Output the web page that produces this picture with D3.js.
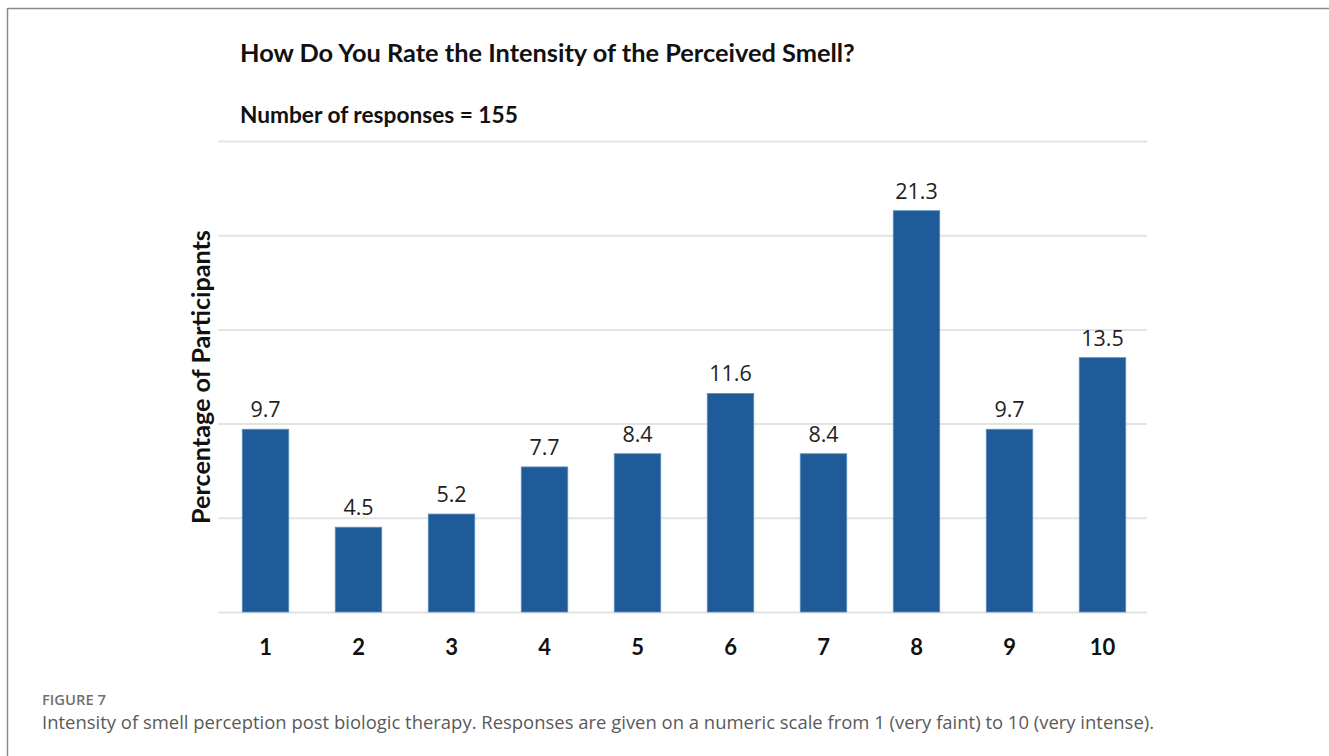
<!DOCTYPE html>
<html><head><meta charset="utf-8">
<script src="https://cdn.jsdelivr.net/npm/d3@7"></script>
<style>
body{margin:0;background:#fff;}
svg{display:block;}
</style></head>
<body>
<svg id="chart" width="1329" height="756"></svg>
<script>
const categories = ["1","2","3","4","5","6","7","8","9","10"];
const values = [9.7, 4.5, 5.2, 7.7, 8.4, 11.6, 8.4, 21.3, 9.7, 13.5];
const yTicks = [0, 5, 10, 15, 20, 25];
const titleText = "How Do You Rate the Intensity of the Perceived Smell?";
const subtitleText = "Number of responses = 155";
const yLabel = "Percentage of Participants";
const figLabel = "FIGURE 7";
const captionText = "Intensity of smell perception post biologic therapy. Responses are given on a numeric scale from 1 (very faint) to 10 (very intense).";

const svg = d3.select("#chart");
const pLeft = 218, pRight = 1147, pTop = 141, pBottom = 612;

// frame
svg.append("line").attr("x1",8).attr("x2",1329).attr("y1",8.5).attr("y2",8.5).attr("stroke","#8a8a8a").attr("stroke-width",1.5);
svg.append("line").attr("x1",7.5).attr("x2",7.5).attr("y1",8).attr("y2",756).attr("stroke","#8a8a8a").attr("stroke-width",1.5);

const x = d3.scaleBand().domain(categories).range([pLeft + 1, pRight + 2]).paddingInner(0.5).paddingOuter(0.25);
const y = d3.scaleLinear().domain([0, 25]).range([pBottom, pTop]);

const fontFam = "Lato, 'Open Sans', sans-serif";

// grid
const yAxis = d3.axisLeft(y).tickValues(yTicks).tickSize(-(pRight-pLeft)).tickFormat("");
const gy = svg.append("g").attr("transform", `translate(${pLeft},0)`).call(yAxis);
gy.select(".domain").remove();
gy.selectAll(".tick line").attr("stroke","#e3e3e3").attr("stroke-width",2);

// bars
svg.append("g").selectAll("rect").data(values).join("rect")
  .attr("x",(d,i)=>x(categories[i]))
  .attr("y",d=>y(d))
  .attr("width",x.bandwidth())
  .attr("height",d=>y(0)-y(d))
  .attr("fill","#1f5b98")
  .attr("stroke","#5f8fc0").attr("stroke-width",0.8);

// value labels
svg.append("g").selectAll("text").data(values).join("text")
  .attr("x",(d,i)=>x(categories[i])+x.bandwidth()/2)
  .attr("y",d=>y(d)-12)
  .attr("text-anchor","middle")
  .attr("font-family","'Open Sans', sans-serif")
  .attr("font-size",21.5)
  .attr("fill","#222")
  .text(d=>d.toFixed(1));

// x axis labels
const xAxis = d3.axisBottom(x).tickSize(0).tickPadding(0);
const gx = svg.append("g").attr("transform",`translate(0,${pBottom})`).call(xAxis);
gx.select(".domain").remove();
gx.selectAll(".tick text").attr("dy",0).attr("y",43)
  .attr("font-family",fontFam).attr("font-weight","bold").attr("font-size",22).attr("fill","#111");

// titles
const tTitle = svg.append("text").attr("x",240).attr("y",62).attr("font-family",fontFam).attr("font-weight","bold")
  .attr("font-size",22).attr("fill","#111").text(titleText);
const tSub = svg.append("text").attr("x",240).attr("y",123).attr("font-family",fontFam).attr("font-weight","bold")
  .attr("font-size",20).attr("fill","#111").text(subtitleText);

// y label
const tY = svg.append("text").attr("transform",`translate(210,377) rotate(-90)`).attr("text-anchor","middle")
  .attr("font-family",fontFam).attr("font-weight","bold").attr("font-size",22).attr("fill","#111").text(yLabel);

// caption
const tFig = svg.append("text").attr("x",42).attr("y",705).attr("font-family","'Open Sans', sans-serif")
  .attr("font-weight",600).attr("font-size",13).attr("fill","#707070").text(figLabel);
const tCap = svg.append("text").attr("x",42).attr("y",729).attr("font-family","'Open Sans', sans-serif")
  .attr("font-size",16).attr("fill","#5a5a5a").text(captionText);

// fit widths to reference
function fit(sel, target){ const w=sel.node().getComputedTextLength(); const fs=+sel.attr("font-size"); sel.attr("font-size", fs*target/w); }
fit(tTitle, 615);
fit(tSub, 278);
fit(tY, 294);
fit(tFig, 64);
fit(tCap, 1113);
</script>
</body></html>
